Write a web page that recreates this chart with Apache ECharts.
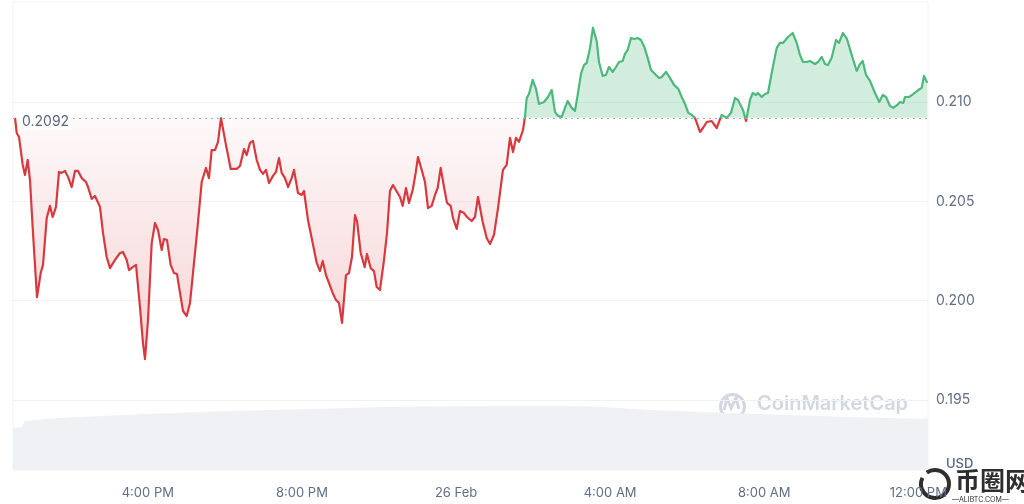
<!DOCTYPE html>
<html><head><meta charset="utf-8">
<script src="https://cdn.jsdelivr.net/npm/echarts@6/dist/echarts.min.js"></script>
<style>html,body{margin:0;padding:0;background:#fff}#c{width:1024px;height:504px}</style>
</head><body><div id="c"></div>
<script>
// ---- data ----
const openPrice = 0.2092;
// time in hours counted from 00:00 on 25 Feb (24 = 26 Feb 00:00)
const priceHours = [
12.552,12.596,12.656,12.752,12.811,12.882,12.941,13.019,13.123,13.219,
13.279,13.375,13.460,13.530,13.616,13.694,13.764,13.850,13.928,14.024,
14.109,14.187,14.283,14.395,14.447,14.543,14.628,14.758,14.836,14.932,
15.018,15.148,15.277,15.355,15.451,15.511,15.607,15.693,15.796,15.874,
15.926,16.004,16.100,16.186,16.264,16.360,16.419,16.497,16.593,16.679,
16.757,16.835,16.913,17.009,17.094,17.172,17.276,17.398,17.510,17.587,
17.657,17.743,17.821,17.899,18.003,18.151,18.306,18.392,18.496,18.566,
18.652,18.729,18.826,18.911,18.989,19.067,19.145,19.249,19.326,19.404,
19.474,19.560,19.638,19.734,19.794,19.897,19.994,20.053,20.157,20.279,
20.383,20.468,20.539,20.624,20.702,20.798,20.884,20.962,21.040,21.143,
21.221,21.299,21.377,21.429,21.525,21.629,21.688,21.784,21.870,21.940,
22.026,22.130,22.208,22.285,22.363,22.467,22.545,22.615,22.701,22.779,
22.875,22.952,23.012,23.108,23.194,23.272,23.368,23.453,23.524,23.601,
23.687,23.765,23.861,23.921,24.017,24.102,24.206,24.284,24.406,24.492,
24.570,24.692,24.795,24.881,24.985,25.089,25.218,25.314,25.400,25.478,
25.556,25.634,25.738,25.789,25.834,25.893,25.989,26.075,26.153,26.282,
26.386,26.482,26.568,26.646,26.742,26.828,26.898,27.002,27.087,27.157,
27.243,27.321,27.391,27.477,27.554,27.650,27.710,27.806,27.892,27.970,
28.066,28.151,28.229,28.325,28.385,28.455,28.541,28.619,28.715,28.800,
28.886,28.974,29.060,29.164,29.268,29.337,29.449,29.553,29.657,29.769,
29.857,29.943,30.028,30.117,30.202,30.332,30.410,30.506,30.635,30.765,
30.895,31.025,31.136,31.240,31.318,31.448,31.526,31.630,31.700,31.785,
31.837,31.933,32.019,32.097,32.193,32.323,32.408,32.486,32.616,32.738,
32.842,32.927,33.005,33.101,33.187,33.317,33.395,33.491,33.576,33.654,
33.750,33.862,33.940,34.043,34.147,34.269,34.399,34.485,34.555,34.641,
34.745,34.874,34.986,35.075,35.160,35.264,35.349,35.453,35.523,35.609,
35.653,35.764,35.868,35.998,36.087,36.146,36.232];
const prices = [
0.20920,0.20844,0.20824,0.20683,0.20633,0.20708,0.20607,0.20341,0.20018,0.20139,
0.20180,0.20416,0.20477,0.20421,0.20472,0.20648,0.20643,0.20653,0.20623,0.20572,
0.20653,0.20653,0.20617,0.20597,0.20572,0.20512,0.20527,0.20472,0.20341,0.20220,
0.20164,0.20205,0.20240,0.20245,0.20205,0.20154,0.20169,0.20180,0.19968,0.19787,
0.19706,0.19903,0.20290,0.20391,0.20356,0.20255,0.20310,0.20305,0.20180,0.20139,
0.20134,0.20039,0.19948,0.19923,0.19988,0.20139,0.20341,0.20597,0.20668,0.20617,
0.20758,0.20758,0.20799,0.20920,0.20809,0.20663,0.20663,0.20678,0.20763,0.20733,
0.20794,0.20804,0.20708,0.20658,0.20638,0.20658,0.20592,0.20628,0.20648,0.20718,
0.20643,0.20617,0.20572,0.20617,0.20658,0.20542,0.20532,0.20552,0.20406,0.20290,
0.20190,0.20149,0.20200,0.20129,0.20089,0.20039,0.20003,0.19988,0.19888,0.20129,
0.20139,0.20220,0.20431,0.20401,0.20240,0.20169,0.20235,0.20164,0.20149,0.20069,
0.20054,0.20205,0.20341,0.20552,0.20582,0.20547,0.20522,0.20477,0.20567,0.20492,
0.20557,0.20643,0.20723,0.20658,0.20597,0.20466,0.20477,0.20532,0.20567,0.20668,
0.20572,0.20492,0.20477,0.20416,0.20361,0.20451,0.20441,0.20421,0.20401,0.20421,
0.20522,0.20396,0.20315,0.20285,0.20331,0.20466,0.20658,0.20683,0.20819,0.20748,
0.20819,0.20799,0.20859,0.20925,0.21020,0.21040,0.21111,0.21066,0.20990,0.21000,
0.21025,0.21060,0.20950,0.20930,0.20925,0.20970,0.21005,0.20970,0.20955,0.21035,
0.21141,0.21186,0.21196,0.21272,0.21373,0.21307,0.21201,0.21131,0.21136,0.21176,
0.21151,0.21176,0.21201,0.21206,0.21242,0.21262,0.21322,0.21317,0.21322,0.21312,
0.21277,0.21222,0.21161,0.21141,0.21121,0.21126,0.21151,0.21121,0.21086,0.21066,
0.21025,0.20990,0.20945,0.20935,0.20920,0.20849,0.20869,0.20899,0.20904,0.20869,
0.20935,0.20920,0.20945,0.21020,0.21010,0.20960,0.20904,0.21010,0.21045,0.21035,
0.21045,0.21025,0.21040,0.21045,0.21146,0.21272,0.21297,0.21297,0.21327,0.21347,
0.21297,0.21237,0.21201,0.21201,0.21206,0.21191,0.21201,0.21227,0.21191,0.21186,
0.21222,0.21312,0.21297,0.21347,0.21317,0.21237,0.21156,0.21191,0.21206,0.21136,
0.21106,0.21045,0.21000,0.21035,0.21025,0.20980,0.20970,0.20985,0.21000,0.20995,
0.21025,0.21025,0.21040,0.21060,0.21071,0.21131,0.21096];
// trading volume (millions USD)
const volumeHours = [12.5, 12.73, 12.81, 13.72, 16.06, 18.13, 19.95, 22.54, 25.14, 26.70, 27.74, 29.03, 31.63, 34.22, 36.25];
const volumes     = [90,   92,    105,   111,   120,   126,   130,   135,   137,   137,   135,   128,   120,   113,   109];
const xTickHours  = [16, 20, 24, 28, 32, 36];
const xTickLabels = ['4:00 PM', '8:00 PM', '26 Feb', '4:00 AM', '8:00 AM', '12:00 PM'];
const yTickValues = [0.195, 0.2, 0.205, 0.21];

// ---- chart ----
const priceData = priceHours.map((h, i) => [h, prices[i]]);
const volumeData = volumeHours.map((h, i) => [h, volumes[i]]);
const RED = '#d8393f', GREEN = '#4cb97c';
const FONT = 'Inter, "Noto Sans", sans-serif';

const chart = echarts.init(document.getElementById('c'), null, {renderer: 'canvas'});
chart.setOption({
  animation: false,
  backgroundColor: '#fff',
  grid: {left: 13, right: 96, top: 2, bottom: 34, show: true, borderColor: '#eff2f5', borderWidth: 1},
  xAxis: {
    type: 'value', min: 12.5, max: 36.25,
    axisLine: {show: false}, splitLine: {show: false},
    axisTick: {show: false, customValues: xTickHours},
    axisLabel: {
      customValues: xTickHours, margin: 17, fontSize: 13, color: '#616e85', fontFamily: FONT,
      formatter: v => xTickLabels[xTickHours.indexOf(v)]
    }
  },
  yAxis: [{
    type: 'value', position: 'right', min: 0.19148, max: 0.21503,
    axisLine: {show: false},
    axisTick: {show: false, customValues: yTickValues},
    splitLine: {show: true, lineStyle: {color: '#eff2f5', width: 1}},
    axisLabel: {customValues: yTickValues, margin: 8, fontSize: 14, color: '#616e85', fontFamily: FONT,
      padding: [4, 0, 0, 0], formatter: v => v.toFixed(3)}
  }, {
    type: 'value', min: 0, max: 1000, show: false, splitLine: {show: false}
  }],
  visualMap: [
    {type: 'continuous', show: false, seriesIndex: 1, dimension: 1,
     min: 0.196, max: 0.2224, range: [0.196, openPrice],
     inRange: {color: ['rgba(216,57,63,0.24)', 'rgba(216,57,63,0.03)', 'rgba(216,57,63,0.03)']},
     outOfRange: {color: 'rgba(76,185,124,0.25)'}},
    {type: 'piecewise', show: false, seriesIndex: 2, dimension: 1,
     pieces: [{gte: 0.18, lt: openPrice, color: RED}, {gte: openPrice, lte: 0.23, color: GREEN}]}
  ],
  series: [
    {type: 'line', name: 'Volume', yAxisIndex: 1, data: volumeData, symbol: 'none', silent: true, z: 1,
     lineStyle: {width: 0, opacity: 0}, areaStyle: {color: '#eff1f4', opacity: 1}},
    {type: 'line', name: 'PriceArea', data: priceData, symbol: 'none', silent: true, z: 2,
     lineStyle: {width: 0, opacity: 0}, areaStyle: {origin: openPrice, opacity: 1}},
    {type: 'line', name: 'Price', data: priceData, symbol: 'none', z: 3,
     lineStyle: {width: 2.2, join: 'round'},
     markLine: {
       silent: true, symbol: 'none', animation: false, precision: 4,
       lineStyle: {type: [2, 4], color: '#a3acbc', width: 1},
       label: {show: true, position: 'insideStartTop', distance: [6, -12], formatter: String(openPrice),
               color: '#58667e', fontSize: 14, fontFamily: FONT, backgroundColor: '#fff', padding: [2, 3, 1, 3]},
       data: [{yAxis: openPrice}]
     }}
  ],
  graphic: [
    {type: 'circle', left: 718, top: 392, shape: {r: 12}, style: {fill: 'none', stroke: '#d3d8e0', lineWidth: 3}, silent: true},
    {type: 'polyline', shape: {points: [[724, 410], [727, 398], [731, 408], [736, 398], [739, 409]]}, style: {fill: 'none', stroke: '#d3d8e0', lineWidth: 3}, silent: true},
    {type: 'text', left: 757, top: 394, style: {text: 'CoinMarketCap', fontSize: 20, fontWeight: 600, fill: '#d3d8e0', fontFamily: FONT}, silent: true},
    {type: 'text', left: 946, top: 458, style: {text: 'USD', fontSize: 13, fontWeight: 500, fill: '#58667e', fontFamily: FONT}, silent: true},
    {type: 'text', left: 955, top: 468, style: {text: '币圈网', fontSize: 25, fontWeight: 'bold', fill: '#2e2e2e', fontFamily: '"Noto Sans CJK SC"'}, silent: true},
    {type: 'text', left: 952, top: 496, style: {text: '—ALIBTC.COM—', fontSize: 7, fill: '#2e2e2e', fontFamily: FONT}, silent: true},
    {type: 'arc', shape: {cx: 935, cy: 484, r: 14, startAngle: -2.2, endAngle: 3.6}, style: {fill: 'none', stroke: '#2e2e2e', lineWidth: 4}, silent: true}
  ]
});
</script></body></html>
